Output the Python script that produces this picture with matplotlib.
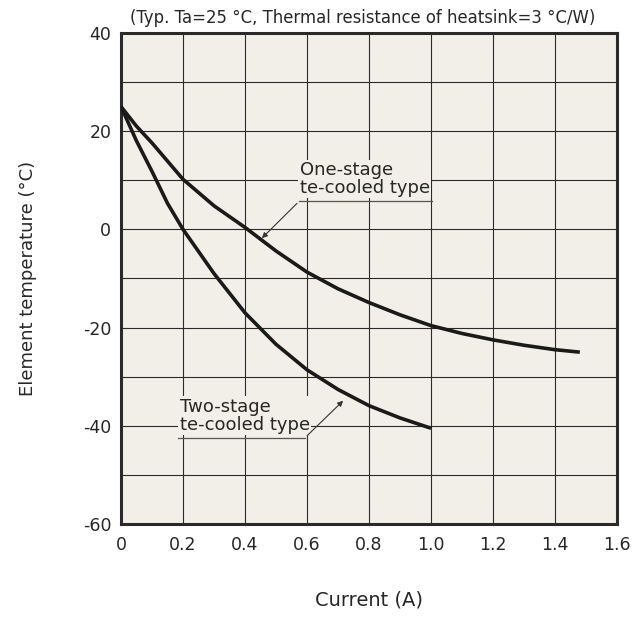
import numpy as np
import matplotlib.pyplot as plt

# valores
one_x = [0, 0.05, 0.1, 0.2, 0.3, 0.4, 0.5, 0.6, 0.7, 0.8, 0.9, 1.0, 1.1, 1.2, 1.3, 1.4, 1.48]
one_y = [25, 21, 17.6, 10.2, 4.8, 0.4, -4.4, -8.7, -12.1, -14.9, -17.4, -19.6, -21.2, -22.5, -23.6, -24.5, -25.0]

two_x = [0, 0.05, 0.1, 0.15, 0.2, 0.3, 0.4, 0.5, 0.6, 0.7, 0.8, 0.9, 1.0]
two_y = [25, 18, 11.8, 5.3, 0, -9, -17, -23.4, -28.6, -32.6, -35.9, -38.4, -40.5]

x_ticks = [0, 0.2, 0.4, 0.6, 0.8, 1.0, 1.2, 1.4, 1.6]
x_labels = ["0", "0.2", "0.4", "0.6", "0.8", "1.0", "1.2", "1.4", "1.6"]
y_ticks = [-60, -40, -20, 0, 20, 40]

BG = "#f1efe7"
TXT = "#262626"

plt.rcParams.update({"font.family": "DejaVu Sans", "text.color": TXT,
                     "axes.unicode_minus": False})

fig = plt.figure(figsize=(6.41, 6.21), dpi=100)
ax = fig.add_axes([0.1888, 0.1562, 0.7738, 0.7907])
ax.set_facecolor(BG)

ax.plot(one_x, one_y, color="#1a1a1a", lw=2.6, solid_capstyle="butt", zorder=3)
ax.plot(two_x, two_y, color="#1a1a1a", lw=2.6, solid_capstyle="butt", zorder=3)

ax.set_xlim(0, 1.6)
ax.set_ylim(-60, 40)
ax.set_xticks(x_ticks)
ax.set_xticklabels(x_labels)
ax.set_yticks(y_ticks)
ax.set_yticks(np.arange(-50, 40, 20), minor=True)
ax.tick_params(which="both", length=0, labelsize=12.5, colors=TXT)
ax.tick_params(axis="x", pad=9)
ax.tick_params(axis="y", pad=7)
ax.grid(True, which="both", color="#2a2a2a", lw=0.8, zorder=1)
ax.set_axisbelow(True)
for s in ax.spines.values():
    s.set_linewidth(2.2)
    s.set_color("#2a2a2a")

ax.set_xlabel("Current (A)", fontsize=14, labelpad=26, color=TXT)
ax.set_ylabel("Element temperature (°C)", fontsize=13, labelpad=33, color=TXT)
ax.set_title("(Typ. Ta=25 °C, Thermal resistance of heatsink=3 °C/W)",
             fontsize=11.9, pad=7, x=0.487, color=TXT)

# anotações
ax.text(0.577, 6.6, "One-stage\nte-cooled type", fontsize=13, ha="left", va="bottom",
        linespacing=1.0, zorder=4,
        bbox=dict(facecolor=BG, edgecolor="none", pad=1))
ax.plot([0.574, 1.003], [5.7, 5.7], color="#555555", lw=0.9, zorder=4)
ax.annotate("", xy=(0.448, -2.2), xytext=(0.574, 5.7),
            arrowprops=dict(arrowstyle="-|>", color="#333333", lw=0.8,
                            mutation_scale=8), zorder=4)

ax.text(0.19, -41.6, "Two-stage\nte-cooled type", fontsize=13, ha="left", va="bottom",
        linespacing=1.0, zorder=4,
        bbox=dict(facecolor=BG, edgecolor="none", pad=1))
ax.plot([0.184, 0.594], [-42.4, -42.4], color="#555555", lw=0.9, zorder=4)
ax.annotate("", xy=(0.723, -34.5), xytext=(0.594, -42.4),
            arrowprops=dict(arrowstyle="-|>", color="#333333", lw=0.8,
                            mutation_scale=8), zorder=4)

fig.savefig("out.png", dpi=100, facecolor="white")
